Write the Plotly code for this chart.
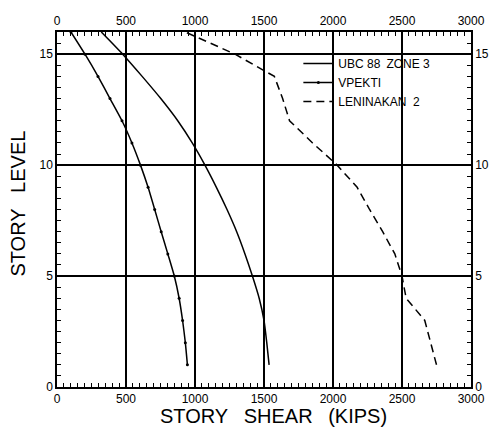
import plotly.graph_objects as go

levels = list(range(1, 17))
ubc88 = [1537, 1520, 1500, 1465, 1416, 1362, 1302, 1232, 1155, 1072, 980, 875, 752, 617, 476, 321]
vpekti = [945, 930, 910, 885, 850, 803, 755, 708, 660, 605, 543, 471, 384, 297, 203, 101]
leninakan = [2750, 2710, 2665, 2530, 2500, 2448, 2360, 2265, 2175, 2030, 1852, 1685, 1635, 1575, 1290, 930]

x_ticks = [0, 500, 1000, 1500, 2000, 2500, 3000]
y_ticks = [0, 5, 10, 15]

FONT = "Liberation Sans"
fig = go.Figure()
fig.add_trace(go.Scatter(x=ubc88, y=levels, mode="lines", name="UBC 88\u2002ZONE 3",
                         line=dict(color="black", width=1.5, shape="spline", smoothing=0.6)))
fig.add_trace(go.Scatter(x=vpekti, y=levels, mode="lines+markers", name="VPEKTI",
                         line=dict(color="black", width=1.5, shape="spline", smoothing=0.5),
                         marker=dict(color="black", size=3)))
fig.add_trace(go.Scatter(x=leninakan, y=levels, mode="lines", name="LENINAKAN  2",
                         line=dict(color="black", width=1.5, dash="8px,5px")))
# invisible trace to carry mirrored labelled axes
fig.add_trace(go.Scatter(x=[0, 3000], y=[0, 16], xaxis="x2", yaxis="y2", mode="markers",
                         marker=dict(opacity=0), showlegend=False, hoverinfo="skip"))

common = dict(showline=True, linecolor="black", linewidth=1.5, ticks="inside",
              tickcolor="black", ticklen=5, tickwidth=1, zeroline=False, automargin=False,
              tickfont=dict(family=FONT, size=12, color="black"))

fig.update_layout(
    width=489, height=423,
    margin=dict(l=49, r=26, t=24, b=44),
    paper_bgcolor="white", plot_bgcolor="white",
    xaxis=dict(range=[0, 3000], tickvals=x_ticks, showgrid=True, gridcolor="black", gridwidth=1.5,
               minor=dict(dtick=50, ticks="inside", ticklen=4, tickcolor="black", showgrid=False),
               **common),
    xaxis2=dict(range=[0, 3000], tickvals=x_ticks, overlaying="x", side="top", showgrid=False,
                minor=dict(dtick=50, ticks="inside", ticklen=4, tickcolor="black"),
                **common),
    yaxis=dict(range=[0, 16], tickvals=y_ticks, showgrid=True, gridcolor="black", gridwidth=1.5,
               minor=dict(dtick=0.5, ticks="inside", ticklen=4, tickcolor="black", showgrid=False),
               **common),
    yaxis2=dict(range=[0, 16], tickvals=y_ticks, overlaying="y", side="right", showgrid=False,
                minor=dict(dtick=0.5, ticks="inside", ticklen=4, tickcolor="black"),
                **common),
    legend=dict(x=0.583, y=0.952, xanchor="left", yanchor="top", bgcolor="rgba(0,0,0,0)",
                font=dict(family=FONT, size=12, color="black"), tracegroupgap=0,
                itemwidth=30),
    showlegend=True,
    annotations=[
        dict(text="STORY\u2002 SHEAR\u2002 (KIPS)", xref="paper", yref="paper", x=0.522, y=-0.0817,
             xanchor="center", yanchor="middle", showarrow=False,
             font=dict(family=FONT, size=20, color="black")),
        dict(text="STORY\u2002 LEVEL", xref="paper", yref="paper", x=-0.093, y=0.518,
             xanchor="center", yanchor="middle", showarrow=False, textangle=-90,
             font=dict(family=FONT, size=20, color="black")),
    ],
)
fig.write_html("out.html")
